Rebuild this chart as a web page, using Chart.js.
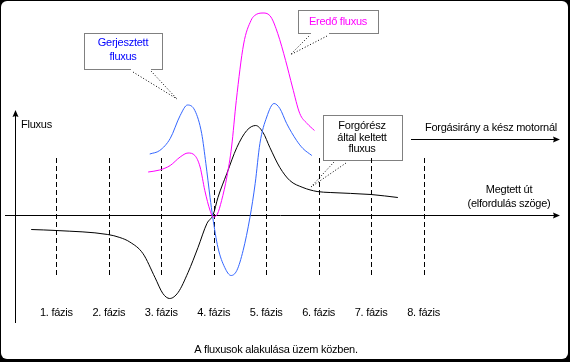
<!DOCTYPE html>
<html>
<head>
<meta charset="utf-8">
<script src="https://cdn.jsdelivr.net/npm/chart.js@4/dist/chart.umd.min.js"></script>
<style>
  html, body { margin: 0; padding: 0; background: #000; }
  #wrap { width: 570px; height: 362px; }
</style>
</head>
<body>
<div id="wrap"><canvas id="c" width="570" height="362"></canvas></div>
<script>
// phases on the horizontal axis (dashed lines) and their labels
var phases = [1, 2, 3, 4, 5, 6, 7, 8];
var phaseLabels = ['1. fázis', '2. fázis', '3. fázis', '4. fázis', '5. fázis', '6. fázis', '7. fázis', '8. fázis'];

// forgórész által keltett fluxus (black)
var rotorX = [0.52, 1.0, 1.98, 2.21, 2.40, 2.65, 2.88, 3.03, 3.16, 3.32, 3.51, 3.70, 3.87, 3.99, 4.08, 4.25, 4.44, 4.63, 4.80, 4.94, 5.07, 5.26, 5.45, 5.70, 5.97, 6.22, 7.00, 7.51];
var rotorY = [-0.30, -0.32, -0.40, -0.46, -0.55, -0.78, -1.26, -1.58, -1.68, -1.56, -1.16, -0.66, -0.18, 0, 0.34, 0.82, 1.34, 1.68, 1.78, 1.64, 1.34, 0.94, 0.68, 0.54, 0.46, 0.44, 0.40, 0.34];

// gerjesztett fluxus (blue)
var excX = [2.78, 2.97, 3.17, 3.36, 3.50, 3.64, 3.77, 3.85, 3.93, 3.98, 4.08, 4.21, 4.33, 4.44, 4.56, 4.69, 4.79, 4.88, 5.01, 5.15, 5.26, 5.39, 5.58, 5.70, 5.87];
var excY = [1.21, 1.28, 1.52, 1.98, 2.19, 2.08, 1.62, 1.02, 0.34, -0.05, -0.66, -1.06, -1.22, -1.12, -0.72, -0.06, 0.62, 1.42, 1.95, 2.22, 2.12, 1.82, 1.48, 1.32, 1.18];

// eredő fluxus (magenta)
var resX = [2.75, 2.97, 3.17, 3.36, 3.51, 3.64, 3.74, 3.83, 3.93, 3.99, 4.07, 4.15, 4.25, 4.34, 4.43, 4.57, 4.71, 4.78, 4.94, 5.09, 5.22, 5.37, 5.50, 5.64, 5.78, 5.92];
var resY = [0.85, 0.89, 0.98, 1.15, 1.23, 1.18, 0.95, 0.48, 0.08, -0.05, 0.01, 0.28, 0.75, 1.35, 2.28, 3.41, 3.88, 3.98, 4.03, 3.95, 3.62, 3.08, 2.55, 2.02, 1.82, 1.68];

function pts(xs, ys) {
  return xs.map(function(x, i) { return { x: x, y: ys[i] }; });
}

var FONT = '11px "Liberation Sans", Arial, sans-serif';

function arrowRight(ctx, x, y) {
  ctx.beginPath();
  ctx.moveTo(x, y);
  ctx.lineTo(x - 7, y - 3);
  ctx.lineTo(x - 6, y);
  ctx.lineTo(x - 7, y + 3);
  ctx.closePath();
  ctx.fill();
}

function dottedBox(ctx, x0, y0, x1, y1, gap) {
  ctx.save();
  ctx.setLineDash([1, 1]);
  ctx.strokeStyle = '#000';
  ctx.lineWidth = 1;
  ctx.beginPath();
  ctx.moveTo(x0 + 0.5, y1 + 0.5);
  ctx.lineTo(x0 + 0.5, y0 + 0.5);
  ctx.lineTo(x1 + 0.5, y0 + 0.5);
  ctx.lineTo(x1 + 0.5, y1 + 0.5);
  if (gap) {
    ctx.lineTo(gap[1] + 0.5, y1 + 0.5);
    ctx.moveTo(gap[0] + 0.5, y1 + 0.5);
  }
  ctx.lineTo(x0 + 0.5, y1 + 0.5);
  ctx.stroke();
  ctx.restore();
}

function callout(ctx, lines) {
  ctx.save();
  ctx.setLineDash([1, 2]);
  ctx.strokeStyle = '#000';
  ctx.lineWidth = 1;
  lines.forEach(function(l) {
    ctx.beginPath();
    ctx.moveTo(l[0], l[1]);
    ctx.lineTo(l[2], l[3]);
    ctx.stroke();
  });
  ctx.restore();
}

function txt(ctx, s, x, y, align, color) {
  ctx.fillStyle = color || '#000';
  ctx.textAlign = align || 'center';
  ctx.fillText(s, x, y);
}

var frame = {
  id: 'frame',
  beforeDraw: function(chart) {
    var ctx = chart.ctx;
    ctx.save();
    ctx.fillStyle = '#000';
    ctx.fillRect(0, 0, 570, 362);
    ctx.fillStyle = '#fff';
    ctx.beginPath();
    ctx.roundRect(1, 1, 567, 358, 6);
    ctx.fill();

    var xs = chart.scales.x, ys = chart.scales.y;
    var y0 = Math.round(ys.getPixelForValue(0)) + 0.5;
    ctx.strokeStyle = '#000';
    ctx.fillStyle = '#000';
    ctx.lineWidth = 1;

    // horizontal axis
    ctx.beginPath();
    ctx.moveTo(5, y0);
    ctx.lineTo(556, y0);
    ctx.stroke();
    arrowRight(ctx, 560, y0);

    // vertical axis
    var ax = Math.round(xs.getPixelForValue(0.21)) + 0.5;
    ctx.beginPath();
    ctx.moveTo(ax, 323);
    ctx.lineTo(ax, 114);
    ctx.stroke();
    ctx.beginPath();
    ctx.moveTo(ax, 110);
    ctx.lineTo(ax - 3, 117);
    ctx.lineTo(ax, 116);
    ctx.lineTo(ax + 3, 117);
    ctx.closePath();
    ctx.fill();

    // direction arrow
    ctx.beginPath();
    ctx.moveTo(411, 139.5);
    ctx.lineTo(556, 139.5);
    ctx.stroke();
    arrowRight(ctx, 560, 139.5);

    // dashed phase lines
    ctx.save();
    ctx.setLineDash([5, 3]);
    var top = ys.getPixelForValue(1.13), bot = ys.getPixelForValue(-1.23);
    phases.forEach(function(p) {
      var px = Math.round(xs.getPixelForValue(p)) + 0.5;
      ctx.beginPath();
      ctx.moveTo(px, top);
      ctx.lineTo(px, bot);
      ctx.stroke();
    });
    ctx.restore();
    ctx.restore();
  },
  afterDraw: function(chart) {
    var ctx = chart.ctx;
    var xs = chart.scales.x;
    ctx.save();
    ctx.font = FONT;
    ctx.letterSpacing = '-0.25px';
    ctx.textBaseline = 'middle';

    phases.forEach(function(p, i) {
      txt(ctx, phaseLabels[i], xs.getPixelForValue(p), 313);
    });

    txt(ctx, 'Fluxus', 21, 125, 'left');
    txt(ctx, 'Forgásirány a kész motornál', 557, 128, 'right');
    txt(ctx, 'Megtett út', 509, 190);
    txt(ctx, '(elfordulás szöge)', 509, 204);
    txt(ctx, 'A fluxusok alakulása üzem közben.', 276, 350);

    // callout boxes
    dottedBox(ctx, 84, 33, 162, 69, [130, 150]);
    txt(ctx, 'Gerjesztett', 123, 43, 'center', '#0000ff');
    txt(ctx, 'fluxus', 123, 57, 'center', '#0000ff');
    callout(ctx, [[133, 72, 177, 99], [151, 71, 177, 99]]);

    dottedBox(ctx, 298, 10, 378, 33, [310, 328]);
    txt(ctx, 'Eredő fluxus', 338, 22, 'center', '#ff00ff');
    callout(ctx, [[309, 36, 290, 55], [327, 36, 290, 55]]);

    dottedBox(ctx, 323, 115, 402, 160);
    txt(ctx, 'Forgórész', 362, 126);
    txt(ctx, 'által keltett', 362, 137.5);
    txt(ctx, 'fluxus', 362, 149);
    callout(ctx, [[334, 162, 311, 187], [346, 163, 311, 187]]);
    ctx.restore();
  }
};

function lineSet(data, color) {
  return {
    data: data,
    borderColor: color,
    borderWidth: 1,
    pointRadius: 0,
    fill: false,
    cubicInterpolationMode: 'monotone'
  };
}

new Chart(document.getElementById('c'), {
  type: 'line',
  data: {
    datasets: [
      lineSet(pts(resX, resY), '#ff00ff'),
      lineSet(pts(excX, excY), '#3366ff'),
      lineSet(pts(rotorX, rotorY), '#000000')
    ]
  },
  options: {
    responsive: false,
    animation: false,
    events: [],
    layout: { padding: 0 },
    plugins: { legend: { display: false }, tooltip: { enabled: false } },
    scales: {
      x: { type: 'linear', display: false, min: -0.0744, max: 10.7912 },
      y: { type: 'linear', display: false, min: -2.95, max: 4.29 }
    }
  },
  plugins: [frame]
});
</script>
</body>
</html>
